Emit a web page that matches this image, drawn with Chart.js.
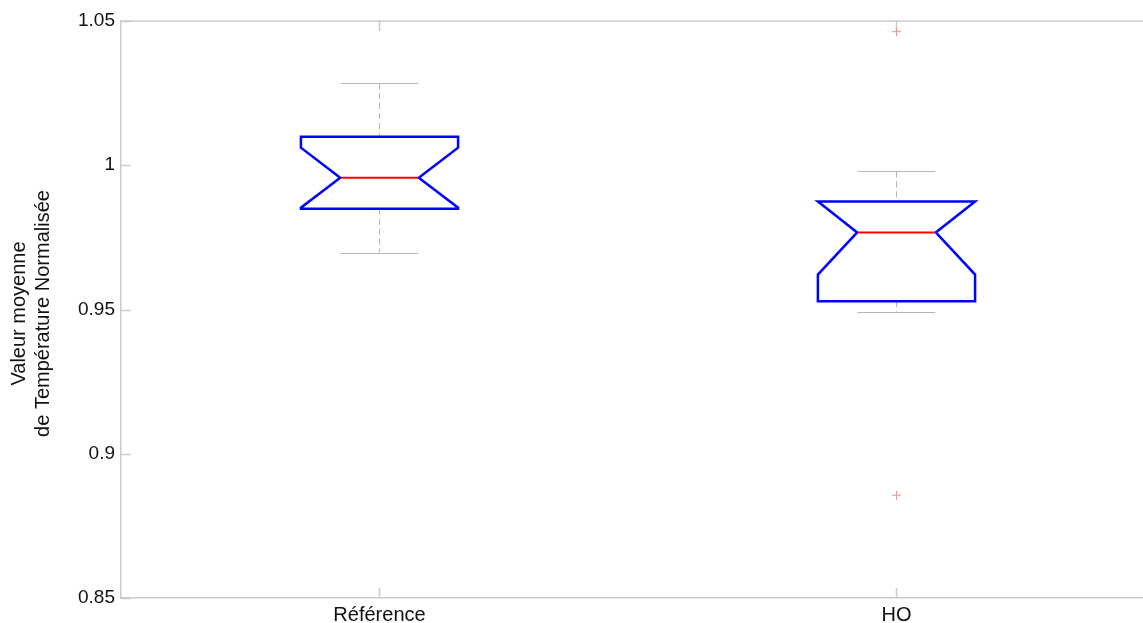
<!DOCTYPE html>
<html>
<head>
<meta charset="utf-8">
<script src="https://cdn.jsdelivr.net/npm/chart.js@4/dist/chart.umd.min.js"></script>
<style>
  body { margin: 0; background: #fff; }
  #wrap { width: 1143px; height: 623px; position: relative; }
</style>
</head>
<body>
<div id="wrap"><canvas id="boxChart"></canvas></div>
<script>
const categories = ['Référence', 'HO'];
const whiskerLow = [0.9697, 0.9492];
const q1 = [0.9849, 0.9529];
const median = [0.9957, 0.9767];
const q3 = [1.0099, 0.9874];
const whiskerHigh = [1.0285, 0.9979];
const notchLow = [0.9853, 0.9621];
const notchHigh = [1.0061, 0.9913];
const outliers = [[], [1.0463, 0.8856]];
const yTicks = [0.85, 0.9, 0.95, 1, 1.05];

const axisColor = '#cbcbcb';

const outlierPoints = [];
outliers.forEach((list, i) => list.forEach(v => outlierPoints.push({ x: i + 1, y: v })));

// boxes, whiskers and inward ticks drawn against the chart scales
const boxPlugin = {
  id: 'boxes',
  beforeDatasetsDraw(chart) {
    const ctx = chart.ctx;
    const xs = chart.scales.x;
    const ys = chart.scales.y;
    const area = chart.chartArea;

    ctx.save();
    ctx.strokeStyle = axisColor;
    ctx.lineWidth = 1.5;
    // top frame line
    ctx.beginPath();
    ctx.moveTo(area.left, area.top);
    ctx.lineTo(area.right, area.top);
    ctx.stroke();
    // inward ticks
    ctx.beginPath();
    yTicks.forEach(v => {
      const py = Math.round(ys.getPixelForValue(v)) + 0.5;
      ctx.moveTo(area.left, py);
      ctx.lineTo(area.left + 10, py);
    });
    categories.forEach((c, i) => {
      const px = Math.round(xs.getPixelForValue(i + 1)) + 0.5;
      ctx.moveTo(px, area.bottom);
      ctx.lineTo(px, area.bottom - 10);
      ctx.moveTo(px, area.top);
      ctx.lineTo(px, area.top + 10);
    });
    ctx.stroke();

    const hw = 0.152, nw = 0.076, cw = 0.075;
    categories.forEach((c, i) => {
      const x = i + 1;
      const X = v => xs.getPixelForValue(v);
      const Y = v => ys.getPixelForValue(v);
      const cx = Math.round(X(x)) + 0.5;

      // whiskers
      ctx.strokeStyle = '#b5b5b5';
      ctx.lineWidth = 1;
      ctx.setLineDash([6, 4]);
      ctx.beginPath();
      ctx.moveTo(cx, Y(whiskerHigh[i]));
      ctx.lineTo(cx, Y(q3[i]));
      ctx.moveTo(cx, Y(q1[i]));
      ctx.lineTo(cx, Y(whiskerLow[i]));
      ctx.stroke();
      ctx.setLineDash([]);
      ctx.beginPath();
      ctx.moveTo(X(x - cw), Math.round(Y(whiskerHigh[i])) + 0.5);
      ctx.lineTo(X(x + cw), Math.round(Y(whiskerHigh[i])) + 0.5);
      ctx.moveTo(X(x - cw), Math.round(Y(whiskerLow[i])) + 0.5);
      ctx.lineTo(X(x + cw), Math.round(Y(whiskerLow[i])) + 0.5);
      ctx.stroke();

      // notched box
      const nHi = Math.min(notchHigh[i], q3[i]);
      const nLo = Math.max(notchLow[i], q1[i]);
      ctx.strokeStyle = '#0000ff';
      ctx.lineWidth = 2.5;
      ctx.lineJoin = 'miter';
      ctx.beginPath();
      ctx.moveTo(X(x - hw), Y(q3[i]));
      ctx.lineTo(X(x + hw), Y(q3[i]));
      ctx.lineTo(X(x + hw), Y(nHi));
      ctx.lineTo(X(x + nw), Y(median[i]));
      ctx.lineTo(X(x + hw), Y(nLo));
      ctx.lineTo(X(x + hw), Y(q1[i]));
      ctx.lineTo(X(x - hw), Y(q1[i]));
      ctx.lineTo(X(x - hw), Y(nLo));
      ctx.lineTo(X(x - nw), Y(median[i]));
      ctx.lineTo(X(x - hw), Y(nHi));
      ctx.closePath();
      ctx.stroke();

      // median
      ctx.strokeStyle = '#ff0000';
      ctx.lineWidth = 2;
      ctx.beginPath();
      ctx.moveTo(X(x - nw) + 1, Y(median[i]));
      ctx.lineTo(X(x + nw) - 1, Y(median[i]));
      ctx.stroke();
    });
    ctx.restore();
  }
};

const ctx = document.getElementById('boxChart').getContext('2d');
new Chart(ctx, {
  type: 'scatter',
  data: {
    datasets: [{
      label: 'Outliers',
      data: outlierPoints,
      pointStyle: 'cross',
      radius: 4.5,
      borderColor: '#ff8c8c',
      borderWidth: 1
    }]
  },
  options: {
    responsive: true,
    maintainAspectRatio: false,
    animation: false,
    layout: { autoPadding: false, padding: { top: 21, right: 0, bottom: 0, left: 0 } },
    plugins: {
      legend: { display: false },
      tooltip: { enabled: false }
    },
    scales: {
      x: {
        type: 'linear',
        min: 0.5,
        max: 2.4768,
        afterBuildTicks: s => { s.ticks = categories.map((c, i) => ({ value: i + 1 })); },
        afterFit: s => { s.height = 25; s.paddingLeft = 0; s.paddingRight = 0; },
        ticks: {
          callback: v => categories[v - 1],
          color: '#111',
          padding: 5,
          maxRotation: 0,
          font: { family: 'Liberation Sans, Arial', size: 20 }
        },
        grid: { display: false, drawTicks: false },
        border: { display: true, color: axisColor, width: 1.5 }
      },
      y: {
        min: 0.85,
        max: 1.05,
        afterBuildTicks: s => { s.ticks = yTicks.map(v => ({ value: v })); },
        afterFit: s => { s.width = 121; },
        ticks: {
          callback: v => String(+v.toFixed(2)),
          color: '#111',
          padding: 6,
          font: { family: 'Liberation Sans, Arial', size: 19 }
        },
        grid: { display: false, drawTicks: false },
        border: { display: true, color: axisColor, width: 1.5 }
      }
    }
  },
  plugins: [boxPlugin, {
    id: 'ytitle',
    afterDraw(chart) {
      const c = chart.ctx;
      const a = chart.chartArea;
      const mid = (a.top + a.bottom) / 2;
      c.save();
      c.fillStyle = '#111';
      c.font = '20px "Liberation Sans", Arial';
      c.textAlign = 'center';
      c.textBaseline = 'middle';
      c.translate(19, mid + 4);
      c.rotate(-Math.PI / 2);
      c.fillText('Valeur moyenne', 0, 0);
      c.fillText('de Température Normalisée', 0, 24);
      c.restore();
    }
  }]
});
</script>
</body>
</html>
